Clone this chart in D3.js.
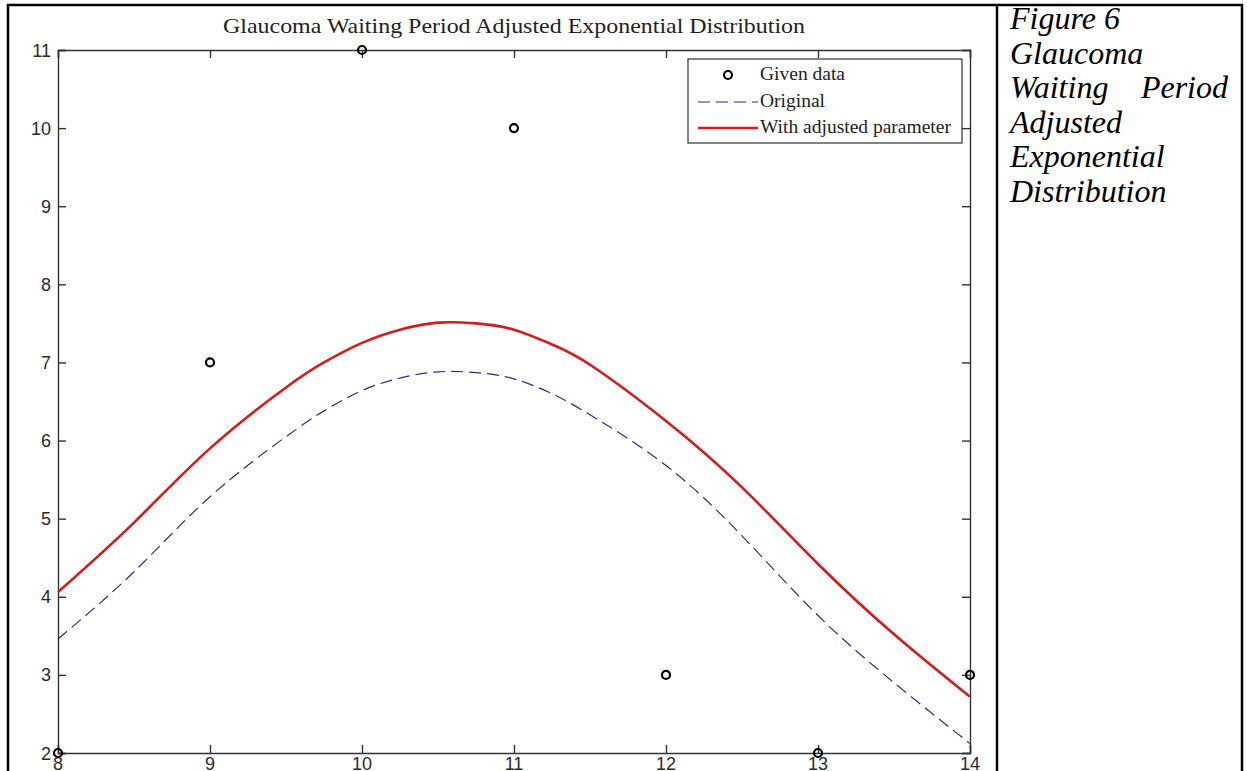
<!DOCTYPE html>
<html>
<head>
<meta charset="utf-8">
<script src="https://cdn.jsdelivr.net/npm/d3@7"></script>
<style>
  body { margin: 0; background: #fff; }
  svg { display: block; }
</style>
</head>
<body>
<svg id="chart" width="1247" height="771"></svg>
<script>
var xTicks = [8, 9, 10, 11, 12, 13, 14];
var yTicks = [2, 3, 4, 5, 6, 7, 8, 9, 10, 11];

// given data points
var givenX = [8, 9, 10, 11, 12, 13, 14];
var givenY = [2, 7, 11, 10, 3, 2, 3];

// fitted curves
var curveX     = [8, 8.5, 9, 9.5, 9.75, 10, 10.25, 10.5, 10.75, 11, 11.25, 11.5, 12, 12.5, 13, 13.5, 14];
var originalY  = [3.46, 4.32, 5.28, 6.05, 6.38, 6.64, 6.8, 6.88, 6.87, 6.79, 6.6, 6.33, 5.68, 4.78, 3.76, 2.9, 2.12];
var adjustedY  = [4.06, 4.95, 5.9, 6.68, 7.0, 7.25, 7.42, 7.51, 7.5, 7.42, 7.23, 6.97, 6.25, 5.4, 4.42, 3.52, 2.72];

var legendLabels = ["Given data", "Original", "With adjusted parameter"];
var captionLines = ["Figure 6", "Glaucoma", "Waiting Period", "Adjusted", "Exponential", "Distribution"];
var title = "Glaucoma Waiting Period Adjusted Exponential Distribution";

var svg = d3.select("#chart");

var x = d3.scaleLinear().domain([8, 14]).range([58, 970]);
var y = d3.scaleLinear().domain([2, 11]).range([753, 50]);

var axisColor = "#333";
var tickFont = "'Liberation Sans', Arial, sans-serif";
var serif = "'Liberation Serif', 'Times New Roman', serif";

// outer table frame
svg.append("rect")
	.attr("x", 8).attr("y", 5)
	.attr("width", 1234).attr("height", 800)
	.attr("fill", "none")
	.attr("stroke", "#000")
	.attr("stroke-width", 2.5);

svg.append("line")
	.attr("x1", 997).attr("x2", 997)
	.attr("y1", 5).attr("y2", 771)
	.attr("stroke", "#000")
	.attr("stroke-width", 2.5);

// axes: bottom / left carry labels, top / right are mirrored
svg.append("g")
	.attr("transform", "translate(0," + y(2) + ")")
	.call(d3.axisTop(x).tickValues(xTicks).tickSize(8).tickFormat(""));
svg.append("g")
	.attr("transform", "translate(0," + y(11) + ")")
	.call(d3.axisBottom(x).tickValues(xTicks).tickSize(8).tickFormat(""));
svg.append("g")
	.attr("transform", "translate(" + x(8) + ",0)")
	.call(d3.axisRight(y).tickValues(yTicks).tickSize(8).tickFormat(""));
svg.append("g")
	.attr("transform", "translate(" + x(14) + ",0)")
	.call(d3.axisLeft(y).tickValues(yTicks).tickSize(8).tickFormat(""));

svg.selectAll(".domain, .tick line")
	.attr("stroke", axisColor)
	.attr("stroke-width", 1.4);

// tick labels
svg.append("g").selectAll("text")
	.data(yTicks)
	.enter().append("text")
	.attr("x", 51)
	.attr("y", function (d) { return y(d) + 6.5; })
	.attr("text-anchor", "end")
	.attr("font-family", tickFont)
	.attr("font-size", 18)
	.attr("fill", "#2a2a2a")
	.text(function (d) { return d; });

svg.append("g").selectAll("text")
	.data(xTicks)
	.enter().append("text")
	.attr("x", function (d) { return x(d); })
	.attr("y", 770)
	.attr("text-anchor", "middle")
	.attr("font-family", tickFont)
	.attr("font-size", 18)
	.attr("fill", "#2a2a2a")
	.text(function (d) { return d; });

// title
svg.append("text")
	.attr("x", (x(8) + x(14)) / 2)
	.attr("y", 33)
	.attr("text-anchor", "middle")
	.attr("font-family", serif)
	.attr("font-size", 22)
	.attr("textLength", 582)
	.attr("lengthAdjust", "spacingAndGlyphs")
	.attr("fill", "#222")
	.text(title);

// curves
var line = d3.line()
	.x(function (d) { return x(d[0]); })
	.y(function (d) { return y(d[1]); })
	.curve(d3.curveNatural);

svg.append("path")
	.datum(d3.zip(curveX, originalY))
	.attr("d", line)
	.attr("fill", "none")
	.attr("stroke", "#2e2e7c")
	.attr("stroke-width", 1.2)
	.attr("stroke-dasharray", "12,6");

svg.append("path")
	.datum(d3.zip(curveX, adjustedY))
	.attr("d", line)
	.attr("fill", "none")
	.attr("stroke", "#d41c1c")
	.attr("stroke-width", 2.6);

// given data markers
svg.append("g").selectAll("circle")
	.data(d3.zip(givenX, givenY))
	.enter().append("circle")
	.attr("cx", function (d) { return x(d[0]); })
	.attr("cy", function (d) { return y(d[1]); })
	.attr("r", 4)
	.attr("fill", "none")
	.attr("stroke", "#000")
	.attr("stroke-width", 2.2);

// legend
var legend = svg.append("g");
legend.append("rect")
	.attr("x", 688).attr("y", 59)
	.attr("width", 274).attr("height", 84)
	.attr("fill", "#fff")
	.attr("stroke", "#333")
	.attr("stroke-width", 1.2);

var rowY = [75, 102, 128];
legend.append("circle")
	.attr("cx", 728).attr("cy", rowY[0])
	.attr("r", 4)
	.attr("fill", "none")
	.attr("stroke", "#000")
	.attr("stroke-width", 2.2);
legend.append("line")
	.attr("x1", 698).attr("x2", 758)
	.attr("y1", rowY[1]).attr("y2", rowY[1])
	.attr("stroke", "#2e2e7c")
	.attr("stroke-width", 1.2)
	.attr("stroke-dasharray", "12,6");
legend.append("line")
	.attr("x1", 698).attr("x2", 758)
	.attr("y1", rowY[2]).attr("y2", rowY[2])
	.attr("stroke", "#d41c1c")
	.attr("stroke-width", 2.6);

legend.selectAll("text")
	.data(legendLabels)
	.enter().append("text")
	.attr("x", 760)
	.attr("y", function (d, i) { return rowY[i] + 5; })
	.attr("font-family", serif)
	.attr("font-size", 19.5)
	.attr("fill", "#222")
	.text(function (d) { return d; });

// caption in the right cell, justified like the document
var cap = svg.append("g")
	.attr("font-family", serif)
	.attr("font-style", "italic")
	.attr("font-size", 32)
	.attr("fill", "#000");

captionLines.forEach(function (s, i) {
	var words = s.split(" ");
	var yy = 29 + i * 34.6;
	if (words.length > 1 && i > 0) {
		cap.append("text").attr("x", 1010).attr("y", yy).text(words[0]);
		cap.append("text").attr("x", 1228).attr("y", yy)
			.attr("text-anchor", "end").text(words[words.length - 1]);
	} else {
		cap.append("text").attr("x", 1010).attr("y", yy).text(s);
	}
});
</script>
</body>
</html>
